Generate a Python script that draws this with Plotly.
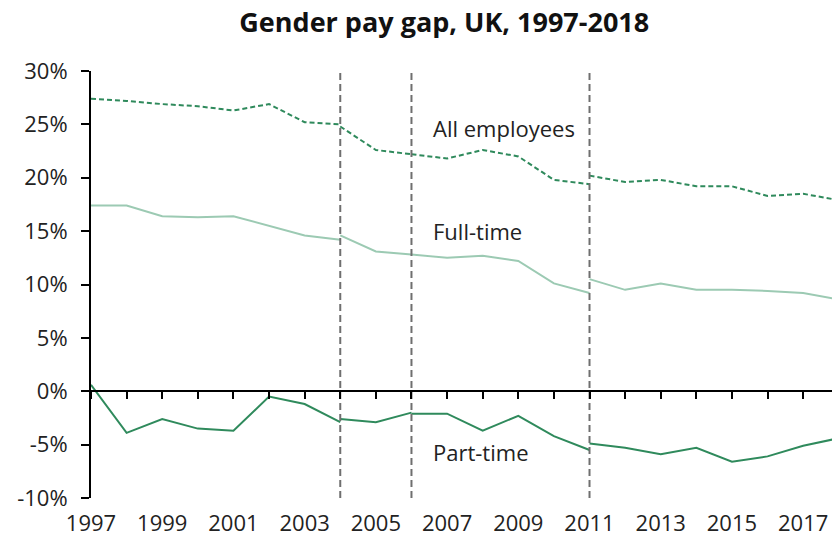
import plotly.graph_objects as go

# Series are split where the survey methodology changed (2004, 2006, 2011),
# so each series is a list of segments that share a year at the break.
segment_years = [
    [1997, 1998, 1999, 2000, 2001, 2002, 2003, 2004],
    [2004, 2005, 2006],
    [2006, 2007, 2008, 2009, 2010, 2011],
    [2011, 2012, 2013, 2014, 2015, 2016, 2017, 2018],
]
all_employees = [
    [27.4, 27.2, 26.9, 26.7, 26.3, 26.9, 25.2, 25.0],
    [24.8, 22.6, 22.2],
    [22.2, 21.8, 22.6, 22.0, 19.8, 19.4],
    [20.2, 19.6, 19.8, 19.2, 19.2, 18.3, 18.5, 17.9],
]
full_time = [
    [17.4, 17.4, 16.4, 16.3, 16.4, 15.5, 14.6, 14.2],
    [14.6, 13.1, 12.8],
    [12.8, 12.5, 12.7, 12.2, 10.1, 9.2],
    [10.5, 9.5, 10.1, 9.5, 9.5, 9.4, 9.2, 8.6],
]
part_time = [
    [0.6, -3.9, -2.6, -3.5, -3.7, -0.5, -1.2, -2.9],
    [-2.6, -2.9, -2.0],
    [-2.1, -2.1, -3.7, -2.3, -4.2, -5.5],
    [-4.9, -5.3, -5.9, -5.3, -6.6, -6.1, -5.1, -4.4],
]
break_years = [2004, 2006, 2011]

year_ticks = list(range(1997, 2018, 2))
all_years = list(range(1997, 2019))
y_ticks = [-10, -5, 0, 5, 10, 15, 20, 25, 30]
y_labels = [f"{v}%" for v in y_ticks]

DARK = "#2f8a5c"
LIGHT = "#9ccab3"
FONT = "Open Sans"

fig = go.Figure()

series = [
    (all_employees, dict(color=DARK, width=2, dash="5px,3px")),
    (full_time, dict(color=LIGHT, width=2)),
    (part_time, dict(color=DARK, width=2)),
]
for values, line in series:
    for yrs, vals in zip(segment_years, values):
        fig.add_trace(go.Scatter(x=yrs, y=vals, mode="lines", line=line,
                                 hoverinfo="skip", showlegend=False))

# dashed markers for the series breaks
for yr in break_years:
    fig.add_trace(go.Scatter(x=[yr, yr], y=[y_ticks[0], y_ticks[-1]], mode="lines",
                             line=dict(color="#6f6f6f", width=2, dash="7px,4px"),
                             hoverinfo="skip", showlegend=False, xaxis="x2"))

labels = [
    ("All employees", 2006.55, 24.7),
    ("Full-time", 2006.55, 15.0),
    ("Part-time", 2006.55, -5.7),
]
for text, x, y in labels:
    fig.add_annotation(x=x, y=y, text=text, showarrow=False, xanchor="left",
                       yanchor="middle", font=dict(size=22, color="#222222"))

# 2018 sits just past the right edge, as in the original crop
x_range = [1997, 2017.81]

fig.update_layout(
    width=832, height=536,
    margin=dict(l=91, r=0, t=71, b=38),
    paper_bgcolor="white", plot_bgcolor="white",
    font=dict(family=FONT, size=22, color="#222222"),
    title=dict(text="<b>Gender pay gap, UK, 1997-2018</b>", x=0.534, xanchor="center",
               y=0.958, yanchor="middle", yref="container",
               font=dict(size=27, color="#111111")),
    xaxis=dict(range=x_range, tickvals=year_ticks, ticktext=[str(y) for y in year_ticks],
               showline=False, showgrid=False, zeroline=False,
               ticks="outside", ticklen=6, tickcolor="rgba(0,0,0,0)"),
    # the zero line carries the yearly tick marks
    xaxis2=dict(range=x_range, overlaying="x", anchor="free", position=0.25,
                tickvals=all_years, showticklabels=False, showline=True,
                linecolor="black", linewidth=2, ticks="outside", ticklen=7,
                tickwidth=2, tickcolor="black", showgrid=False, zeroline=False),
    yaxis=dict(range=[y_ticks[0], y_ticks[-1]], tickvals=y_ticks, ticktext=y_labels,
               showline=True, linecolor="black", linewidth=2, ticks="outside",
               ticklen=8, tickwidth=2, tickcolor="black", ticklabelstandoff=9,
               showgrid=False, zeroline=False),
)

# drop the page's default body margin so the figure fills the window exactly
fig.write_html("out.html", config={"displayModeBar": False},
               post_script="document.body.style.margin='0';document.body.style.overflow='hidden';")
